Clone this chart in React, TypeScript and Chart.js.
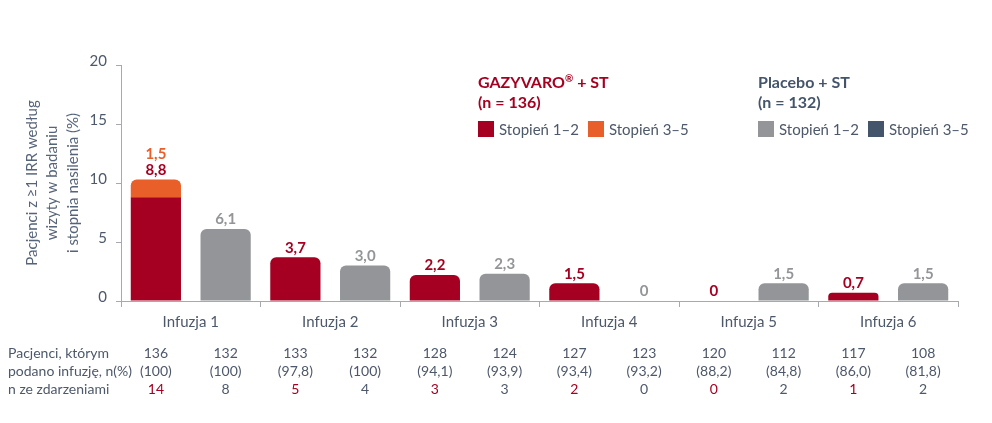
import Chart from "chart.js/auto";
import { useEffect, useRef } from "react";

const categories = ["Infuzja 1", "Infuzja 2", "Infuzja 3", "Infuzja 4", "Infuzja 5", "Infuzja 6"];
const gazyGrade12 = [8.8, 3.7, 2.2, 1.5, 0, 0.7];
const gazyGrade35 = [1.5, 0, 0, 0, 0, 0];
const placeboGrade12 = [6.1, 3.0, 2.3, 0, 1.5, 1.5];
const placeboGrade35 = [0, 0, 0, 0, 0, 0];
const yTicks = [0, 5, 10, 15, 20];

const gazyN = ["136", "133", "128", "127", "120", "117"];
const gazyPct = ["(100)", "(97,8)", "(94,1)", "(93,4)", "(88,2)", "(86,0)"];
const gazyEvents = ["14", "5", "3", "2", "0", "1"];
const placeboN = ["132", "132", "124", "123", "112", "108"];
const placeboPct = ["(100)", "(100)", "(93,9)", "(93,2)", "(84,8)", "(81,8)"];
const placeboEvents = ["8", "4", "3", "0", "2", "2"];

const yTitle = ["Pacjenci z \u22651 IRR według", "wizyty w badaniu", "i stopnia nasilenia (%)"];
const tableLabels = ["Pacjenci, którym", "podano infuzję, n(%)", "n ze zdarzeniami"];

const RED = "#A50021";
const ORANGE = "#E95F2A";
const GREY = "#939598";
const NAVY = "#44546A";
const TEXT = "#4D586A";
const FONT = "Lato, 'Open Sans', sans-serif";

const fmt = (v: number) => (v === 0 ? "0" : v.toFixed(1).replace(".", ","));

const overlay = {
  id: "overlay",
  afterDatasetsDraw(chart: any) {
    const { ctx, chartArea } = chart;
    const m0 = chart.getDatasetMeta(0);
    const m1 = chart.getDatasetMeta(1);
    const m2 = chart.getDatasetMeta(2);
    ctx.save();
    ctx.textAlign = "center";
    ctx.textBaseline = "bottom";
    ctx.font = `bold 15px ${FONT}`;
    categories.forEach((_, i) => {
      const gx = m0.data[i].x;
      const top = Math.min(m0.data[i].y, m1.data[i].y);
      ctx.fillStyle = RED;
      ctx.fillText(fmt(gazyGrade12[i]), gx, top - 2);
      if (gazyGrade35[i] > 0) {
        ctx.fillStyle = ORANGE;
        ctx.fillText(fmt(gazyGrade35[i]), gx, top - 18);
      }
      const px = m2.data[i].x;
      ctx.fillStyle = GREY;
      ctx.fillText(fmt(placeboGrade12[i]), px, m2.data[i].y - 2);
    });

    // table under the axis
    ctx.font = `14px ${FONT}`;
    ctx.textBaseline = "middle";
    const rows = [353, 371, 389];
    ctx.textAlign = "left";
    ctx.fillStyle = TEXT;
    tableLabels.forEach((t, r) => ctx.fillText(t, 8, rows[r]));
    ctx.textAlign = "center";
    categories.forEach((_, i) => {
      const gx = m0.data[i].x;
      const px = m2.data[i].x;
      ctx.fillStyle = TEXT;
      ctx.fillText(gazyN[i], gx, rows[0]);
      ctx.fillText(gazyPct[i], gx, rows[1]);
      ctx.fillText(placeboN[i], px, rows[0]);
      ctx.fillText(placeboPct[i], px, rows[1]);
      ctx.fillText(placeboEvents[i], px, rows[2]);
      ctx.fillStyle = RED;
      ctx.fillText(gazyEvents[i], gx, rows[2]);
    });

    // y-axis title
    const cy = (chartArea.top + chartArea.bottom) / 2;
    ctx.translate(32, cy);
    ctx.rotate(-Math.PI / 2);
    ctx.font = `15px ${FONT}`;
    ctx.fillStyle = "#56647A";
    yTitle.forEach((t, i) => ctx.fillText(t, 0, i * 20.5));
    ctx.restore();
  },
};

function LegendBlock({ left, title, n, color, items }: any) {
  return (
    <div style={{ position: "absolute", left, top: 72, fontFamily: FONT, color: TEXT }}>
      <div style={{ color, fontWeight: 700, fontSize: 16, lineHeight: "20px", height: 20 }}>{title}</div>
      <div style={{ color, fontWeight: 700, fontSize: 16, lineHeight: "20px", height: 20 }}>{n}</div>
      <div style={{ display: "flex", alignItems: "center", marginTop: 8, fontSize: 15 }}>
        {items.map((it: any) => (
          <div key={it.label + it.color} style={{ display: "flex", alignItems: "center", marginRight: 9 }}>
            <span style={{ width: 16, height: 16, background: it.color, display: "inline-block", marginRight: 5 }} />
            <span>{it.label}</span>
          </div>
        ))}
      </div>
    </div>
  );
}

export default function App() {
  const canvasRef = useRef<HTMLCanvasElement | null>(null);

  useEffect(() => {
    if (!canvasRef.current) return;
    const chart = new Chart(canvasRef.current, {
      type: "bar",
      data: {
        labels: categories,
        datasets: [
          { label: "GAZYVARO Stopień 1–2", data: gazyGrade12, backgroundColor: RED, stack: "g" },
          { label: "GAZYVARO Stopień 3–5", data: gazyGrade35, backgroundColor: ORANGE, stack: "g" },
          { label: "Placebo Stopień 1–2", data: placeboGrade12, backgroundColor: GREY, stack: "p" },
          { label: "Placebo Stopień 3–5", data: placeboGrade35, backgroundColor: NAVY, stack: "p" },
        ],
      },
      options: {
        responsive: false,
        animation: false,
        layout: { padding: { top: 65, right: 34, left: 0, bottom: 0 } },
        datasets: { bar: { categoryPercentage: 1, barPercentage: 0.72, borderRadius: 6 } },
        scales: {
          x: {
            stacked: true,
            afterFit: (s: any) => {
              s.height = 122;
            },
            grid: { drawOnChartArea: false, drawTicks: true, tickLength: 6, color: "#A6AAB0" },
            border: { display: true, color: "#A6AAB0" },
            ticks: { color: TEXT, font: { family: FONT, size: 15 }, padding: 6 },
          },
          y: {
            stacked: true,
            min: 0,
            max: 20,
            afterFit: (s: any) => {
              s.width = 121;
            },
            afterBuildTicks: (s: any) => {
              s.ticks = yTicks.map((v) => ({ value: v }));
            },
            grid: { drawOnChartArea: false, drawTicks: true, tickLength: 5, color: "#A6AAB0" },
            border: { display: true, color: "#A6AAB0" },
            ticks: { color: TEXT, font: { family: FONT, size: 15 }, padding: 9, labelOffset: -4 },
          },
        },
        plugins: { legend: { display: false }, tooltip: { enabled: false } },
      },
      plugins: [overlay],
    });
    return () => chart.destroy();
  }, []);

  return (
    <div style={{ position: "absolute", left: 0, top: 0, width: 992, height: 423, background: "#fff" }}>
      <canvas ref={canvasRef} width={992} height={423} />
      <LegendBlock
        left={478}
        title={
          <>
            GAZYVARO
            <span style={{ fontSize: 10, position: "relative", top: -6, lineHeight: 0 }}>®</span> + ST
          </>
        }
        n="(n = 136)"
        color={RED}
        items={[
          { label: "Stopień 1–2", color: RED },
          { label: "Stopień 3–5", color: ORANGE },
        ]}
      />
      <LegendBlock
        left={758}
        title="Placebo + ST"
        n="(n = 132)"
        color={NAVY}
        items={[
          { label: "Stopień 1–2", color: GREY },
          { label: "Stopień 3–5", color: NAVY },
        ]}
      />
    </div>
  );
}
